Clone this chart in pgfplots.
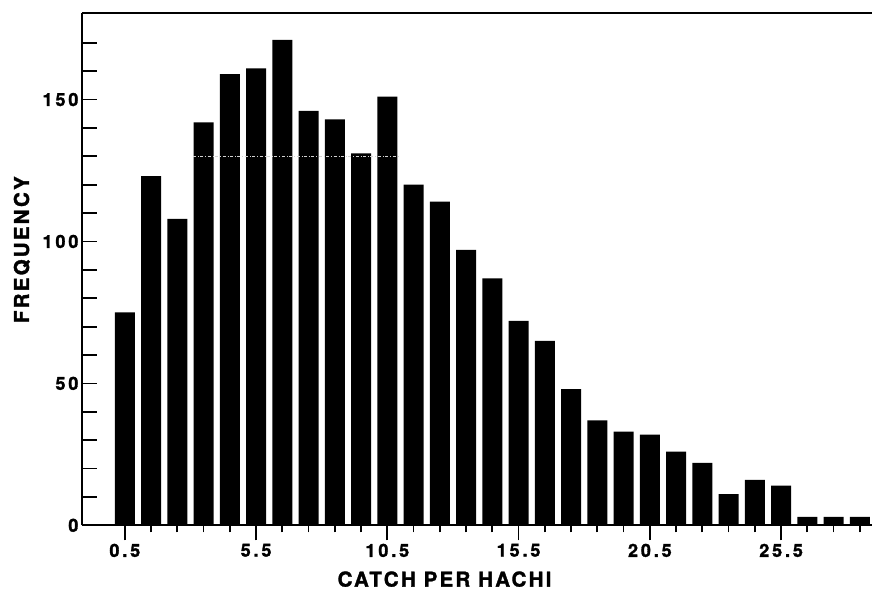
\documentclass[border=0pt]{standalone}
\usepackage{fontspec}
\setmainfont{TeX Gyre Heros}
\usepackage{pgfplots}
\pgfplotsset{compat=1.18}

% catch per hachi: class midpoint, frequency
\pgfplotstableread{
x y
0.5 75
1.5 123
2.5 108
3.5 142
4.5 159
5.5 161
6.5 171
7.5 146
8.5 143
9.5 131
10.5 151
11.5 120
12.5 114
13.5 97
14.5 87
15.5 72
16.5 65
17.5 48
18.5 37
19.5 33
20.5 32
21.5 26
22.5 22
23.5 11
24.5 16
25.5 14
26.5 3
27.5 3
28.5 3
}\freq

\begin{document}
\begin{tikzpicture}
\begin{axis}[
    scale only axis,
    width=791pt, height=513pt,
    xmin=-1.136, xmax=28.96,
    ymin=0, ymax=180.5,
    axis x line*=box,
    axis y line*=left,
    xtick pos=bottom,
    axis line style={line width=2.2pt},
    xtick={0.5,5.5,...,25.5},
    minor xtick={1.5,2.5,...,28.5},
    ytick={0,10,...,170},
    yticklabels={0,,,,,50,,,,,100,,,,,150,,},
    xtick align=outside,
    ytick align=inside,
    major tick length=15pt,
    minor tick length=7pt,
    tick style={black, line width=1.8pt},
    /pgf/number format/assume math mode=true,
    xticklabels={0.5,5.5,10.5,15.5,20.5,25.5},
    ticklabel style={font=\fontsize{18}{18}\selectfont\bfseries\addfontfeature{LetterSpace=16,FakeBold=1.6}},
    label style={font=\fontsize{20.5}{20.5}\selectfont\bfseries\addfontfeature{LetterSpace=11,FakeBold=1.6}},
    xlabel={CATCH PER HACHI},
    ylabel={FREQUENCY},
    xlabel style={at={(axis description cs:0.459,-0.105)}, anchor=center},
    ylabel style={at={(axis description cs:-0.076,0.538)}, anchor=center},
    clip=false,
]
\addplot[ybar, bar width=0.76, fill=black, draw=none] table[x=x, y=y] {\freq};
\addplot[gray!35, dash dot, line width=0.6pt] coordinates {(3.1,130) (10.9,130)};
\path (rel axis cs:0,0) ++(-82pt,-65pt);
\path (rel axis cs:1,1) ++(0pt,13pt);
\end{axis}
\end{tikzpicture}
\end{document}
